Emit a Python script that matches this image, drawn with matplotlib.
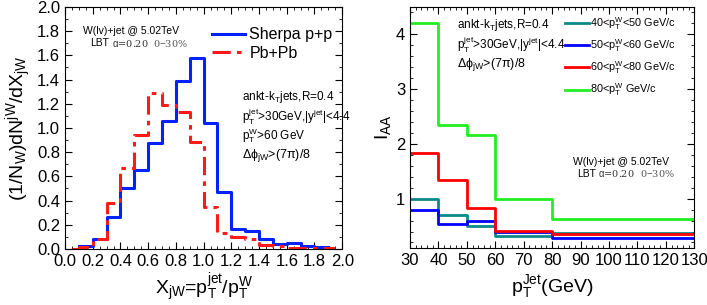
import numpy as np
import matplotlib.pyplot as plt
from matplotlib.ticker import MultipleLocator

plt.rcParams['font.family'] = ['Liberation Sans', 'DejaVu Sans']
plt.rcParams['mathtext.fontset'] = 'custom'
plt.rcParams['mathtext.rm'] = 'Liberation Sans'
plt.rcParams['mathtext.it'] = 'Liberation Sans'

# left panel: x_jW distributions (bin edges, values)
xj_edges = np.round(np.arange(0.1, 1.91, 0.1), 2)
sherpa_pp = [0.02, 0.08, 0.26, 0.50, 0.655, 0.875, 1.06, 1.39, 1.575,
             1.04, 0.47, 0.165, 0.145, 0.08, 0.04, 0.05, 0.02, 0.015]
pbpb_edges = [0.05, 0.1, 0.2, 0.3, 0.4, 0.5, 0.6, 0.7, 0.8, 0.9, 1.0, 1.1,
              1.2, 1.3, 1.4, 1.5, 1.6, 1.7, 1.8, 1.95]
pbpb = [0.0, 0.015, 0.085, 0.38, 0.67, 0.94, 1.29, 1.19, 1.13, 0.88, 0.35,
        0.13, 0.095, 0.08, 0.035, 0.02, 0.01, 0.01, 0.01]

# right panel: I_AA vs pT jet
pt_edges = [30, 40, 50, 60, 80, 130]
iaa_40_50 = [1.0, 0.70, 0.50, 0.32, 0.38]
iaa_50_60 = [0.80, 0.54, 0.59, 0.40, 0.29]
iaa_60_80 = [1.83, 1.35, 0.83, 0.41, 0.35]
iaa_80 = [4.2, 2.34, 2.16, 1.0, 0.62]


def steps(edges, vals):
    return np.asarray(edges), np.append(vals, vals[-1])


fig = plt.figure(figsize=(7.07, 3.05), dpi=100)
ax1 = fig.add_axes([0.092, 0.184, 0.392, 0.793])
ax2 = fig.add_axes([0.580, 0.187, 0.402, 0.790])

for ax in (ax1, ax2):
    ax.tick_params(which='both', direction='in', top=True, right=True,
                   labelsize=12)
    ax.tick_params(which='major', length=5)
    ax.tick_params(which='minor', length=2.5)

# left
x, y = steps(xj_edges, sherpa_pp)
ax1.step(x, y, where='post', color='#0022ff', lw=2.2, label='Sherpa p+p')
x, y = steps(pbpb_edges, pbpb)
ax1.step(x, y, where='post', color='#ff1a1a', lw=2.2, ls=(0, (6, 2, 1.5, 2)),
         label='Pb+Pb')
ax1.set_xlim(0, 2.0)
ax1.set_ylim(0, 2.0)
ax1.xaxis.set_major_locator(MultipleLocator(0.2))
ax1.xaxis.set_minor_locator(MultipleLocator(0.05))
ax1.yaxis.set_major_locator(MultipleLocator(0.2))
ax1.yaxis.set_minor_locator(MultipleLocator(0.1))
ax1.xaxis.set_major_formatter(plt.FormatStrFormatter('%.1f'))
ax1.yaxis.set_major_formatter(plt.FormatStrFormatter('%.1f'))
ax1.set_xlabel(r'X$_{jW}$=p$_T^{jet}$/p$_T^W$', fontsize=14, labelpad=2)
ax1.set_ylabel(r'(1/N$_W$)dN$^{jW}$/dX$_{jW}$', fontsize=14, labelpad=2)
ax1.legend(loc='upper right', bbox_to_anchor=(1.0, 0.955), fontsize=11.5,
           frameon=False, handlelength=2.1, borderaxespad=0.2,
           labelspacing=0.2, handletextpad=0.25)
tk = dict(transform=ax1.transAxes, va='center')
ax1.text(0.065, 0.90, 'W(lv)+jet @ 5.02TeV', fontsize=7.5, **tk)
ax1.text(0.09, 0.85, 'LBT', fontsize=7.5, **tk)
ax1.text(0.17, 0.85, r'$\alpha$=0.20', fontsize=7, family='DejaVu Serif',
         color='#333333', **tk)
ax1.text(0.318, 0.85, r'0$-$30%', fontsize=7, family='DejaVu Serif',
         color='#555555', **tk)
ax1.text(0.64, 0.628, r'ankt-k$_T$jets,R=0.4', fontsize=8.5, **tk)
ax1.text(0.64, 0.545, r'p$_T^{jet}$>30GeV,|y$^{jet}$|<4.4', fontsize=8.5, **tk)
ax1.text(0.64, 0.467, r'p$_T^{W}$>60 GeV', fontsize=8.5, **tk)
ax1.text(0.64, 0.386, r'$\Delta\phi_{jW}$>(7$\pi$)/8', fontsize=9, **tk)

# right
series = [(iaa_40_50, '#0a8a8a', r'40<p$_T^W$<50 GeV/c'),
          (iaa_50_60, '#0000ff', r'50<p$_T^W$<60 GeV/c'),
          (iaa_60_80, '#ff0000', r'60<p$_T^W$<80 GeV/c'),
          (iaa_80, '#22ee22', r'80<p$_T^W$ GeV/c')]
for vals, c, lab in series:
    x, y = steps(pt_edges, vals)
    ax2.step(x, y, where='post', color=c, lw=2, label=lab)
ax2.set_xlim(30, 130)
ax2.set_ylim(0.1, 4.5)
ax2.xaxis.set_major_locator(MultipleLocator(10))
ax2.xaxis.set_minor_locator(MultipleLocator(2))
ax2.yaxis.set_major_locator(MultipleLocator(1))
ax2.yaxis.set_minor_locator(MultipleLocator(0.2))
ax2.set_xlabel(r'p$_T^{Jet}$(GeV)', fontsize=14, labelpad=4)
ax2.set_ylabel(r'I$_{AA}$', fontsize=14, labelpad=2)
ax2.legend(loc='upper left', bbox_to_anchor=(0.53, 0.985), fontsize=7.8,
           frameon=False, handlelength=2.2, borderaxespad=0.0,
           labelspacing=0.5, handletextpad=0.1)
tk = dict(transform=ax2.transAxes, va='center')
ax2.text(0.165, 0.925, r'ankt-k$_T$jets,R=0.4', fontsize=8.5, **tk)
ax2.text(0.165, 0.842, r'p$_T^{jet}$>30GeV,|y$^{jet}$|<4.4', fontsize=8.5, **tk)
ax2.text(0.165, 0.763, r'$\Delta\phi_{jW}$>(7$\pi$)/8', fontsize=9, **tk)
ax2.text(0.574, 0.357, 'W(lv)+jet @ 5.02TeV', fontsize=7.5, **tk)
ax2.text(0.588, 0.307, 'LBT', fontsize=7.5, **tk)
ax2.text(0.66, 0.307, r'$\alpha$=0.20', fontsize=7, family='DejaVu Serif',
         color='#333333', **tk)
ax2.text(0.81, 0.307, r'0$-$30%', fontsize=7, family='DejaVu Serif',
         color='#555555', **tk)

fig.savefig('out.png', dpi=100)
